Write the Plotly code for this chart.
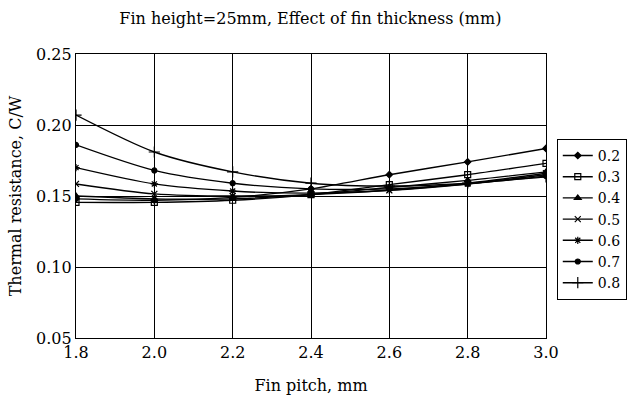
import plotly.graph_objects as go

fin_pitch = [1.8, 2.0, 2.2, 2.4, 2.6, 2.8, 3.0]
thickness_labels = ["0.2", "0.3", "0.4", "0.5", "0.6", "0.7", "0.8"]
r_02 = [0.148, 0.147, 0.149, 0.155, 0.165, 0.174, 0.1835]
r_03 = [0.1455, 0.1455, 0.147, 0.151, 0.158, 0.165, 0.173]
r_04 = [0.150, 0.148, 0.148, 0.151, 0.156, 0.161, 0.167]
r_05 = [0.1585, 0.1515, 0.150, 0.151, 0.154, 0.159, 0.166]
r_06 = [0.170, 0.1585, 0.1535, 0.152, 0.154, 0.1585, 0.165]
r_07 = [0.186, 0.168, 0.159, 0.155, 0.155, 0.1585, 0.164]
r_08 = [0.207, 0.181, 0.167, 0.159, 0.157, 0.159, 0.1635]
series = [r_02, r_03, r_04, r_05, r_06, r_07, r_08]
symbols = ["diamond", "square-open", "triangle-up", "x-thin-open", "asterisk-open", "circle", "cross-thin-open"]
sizes = [5, 6, 6, 6, 6, 5, 8]

FONT = "DejaVu Serif"

fig = go.Figure()
for lab, ys, sym, sz in zip(thickness_labels, series, symbols, sizes):
    fig.add_trace(go.Scatter(
        x=fin_pitch, y=ys, name=lab, mode="lines+markers",
        line=dict(color="black", width=1.4, shape="spline", smoothing=0.8),
        marker=dict(symbol=sym, size=sz, color="black",
                    line=dict(color="black", width=1.2)),
    ))

fig.update_layout(
    width=627, height=405,
    margin=dict(l=76, r=81, t=54, b=67, autoexpand=False),
    paper_bgcolor="white", plot_bgcolor="white",
    font=dict(family=FONT, size=16, color="black"),
    title=dict(text="Fin height=25mm, Effect of fin thickness (mm)",
               x=0.495, xanchor="center", y=0.955, yanchor="middle",
               font=dict(family=FONT, size=16, color="black")),
    legend=dict(xref="container", yref="container",
                x=0.888, xanchor="left", y=0.657, yanchor="top",
                bordercolor="black", borderwidth=1, bgcolor="white",
                font=dict(family=FONT, size=14, color="black"),
                itemwidth=30, tracegroupgap=0),
    showlegend=True,
)
fig.update_xaxes(
    range=[1.8, 3.0], tickvals=fin_pitch, tickformat=".1f",
    showgrid=True, gridcolor="black", gridwidth=1,
    showline=True, linecolor="black", linewidth=1.2, mirror=True,
    ticks="", zeroline=False,
    title=dict(text="Fin pitch, mm", standoff=18, font=dict(family=FONT, size=16)),
)
fig.update_yaxes(
    range=[0.05, 0.25], dtick=0.05, tickformat=".2f",
    showgrid=True, gridcolor="black", gridwidth=1,
    showline=True, linecolor="black", linewidth=1.2, mirror=True,
    ticks="", zeroline=False,
    title=dict(text="Thermal resistance, C/W", standoff=10, font=dict(family=FONT, size=16)),
)

fig.write_html("out.html")
